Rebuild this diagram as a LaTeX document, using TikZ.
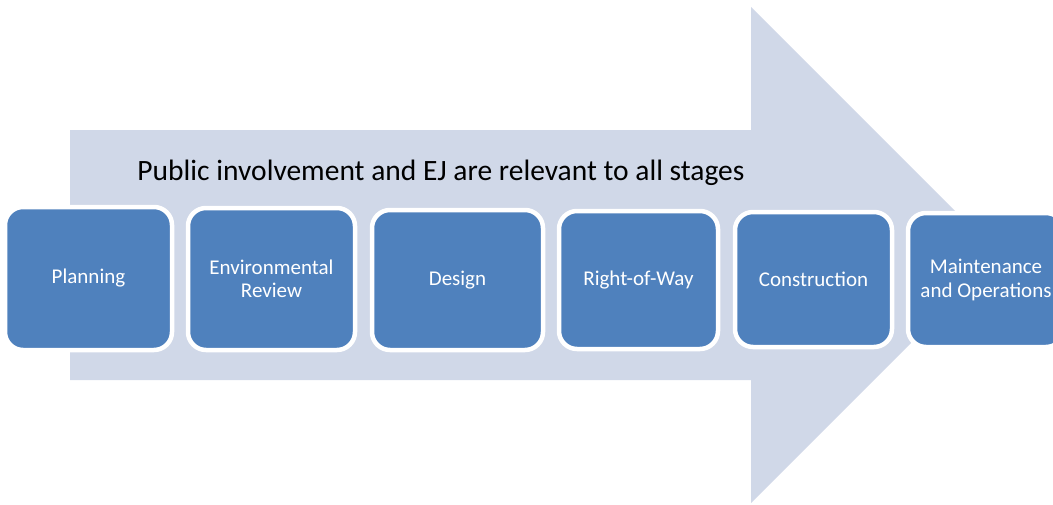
\documentclass[tikz,border=0pt]{standalone}
\usepackage{fontspec}
\setmainfont{Carlito}
\definecolor{arrowfill}{HTML}{D0D8E8}
\definecolor{boxfill}{HTML}{4F81BD}
\tikzset{
  stagebox/.style={draw=white, line width=4.5pt, fill=boxfill, rounded corners=18pt,
    text=white, font=\fontsize{21}{23.5}\selectfont, align=center, inner sep=0pt},
}
\begin{document}
\begin{tikzpicture}[x=1pt,y=-1pt]
\useasboundingbox (0,0) rectangle (1053,504);
\clip (0,0) rectangle (1053,504);
\fill[arrowfill] (70,130) -- (751,130) -- (751,7) -- (999,255) -- (751,503) -- (751,380) -- (70,380) -- cycle;
\node[font=\fontsize{29.5}{33}\selectfont, text=black] (title) at (441,173) {Public involvement and EJ are relevant to all stages};
\node[stagebox, minimum width=167pt, minimum height=143pt] (s1) at (88.5,278.5) {Planning};
\node[stagebox, minimum width=167pt, minimum height=142pt] (s2) at (271.5,279) {Environmental\\Review};
\node[stagebox, minimum width=171pt, minimum height=140pt] (s3) at (457.5,280) {Design};
\node[stagebox, minimum width=159pt, minimum height=138pt] (s4) at (638.5,280) {Right-of-Way};
\node[stagebox, minimum width=157pt, minimum height=135pt] (s5) at (813.5,279.5) {Construction};
\node[stagebox, minimum width=156pt, minimum height=134pt] (s6) at (986,280) {Maintenance\\and Operations};
\end{tikzpicture}
\end{document}
